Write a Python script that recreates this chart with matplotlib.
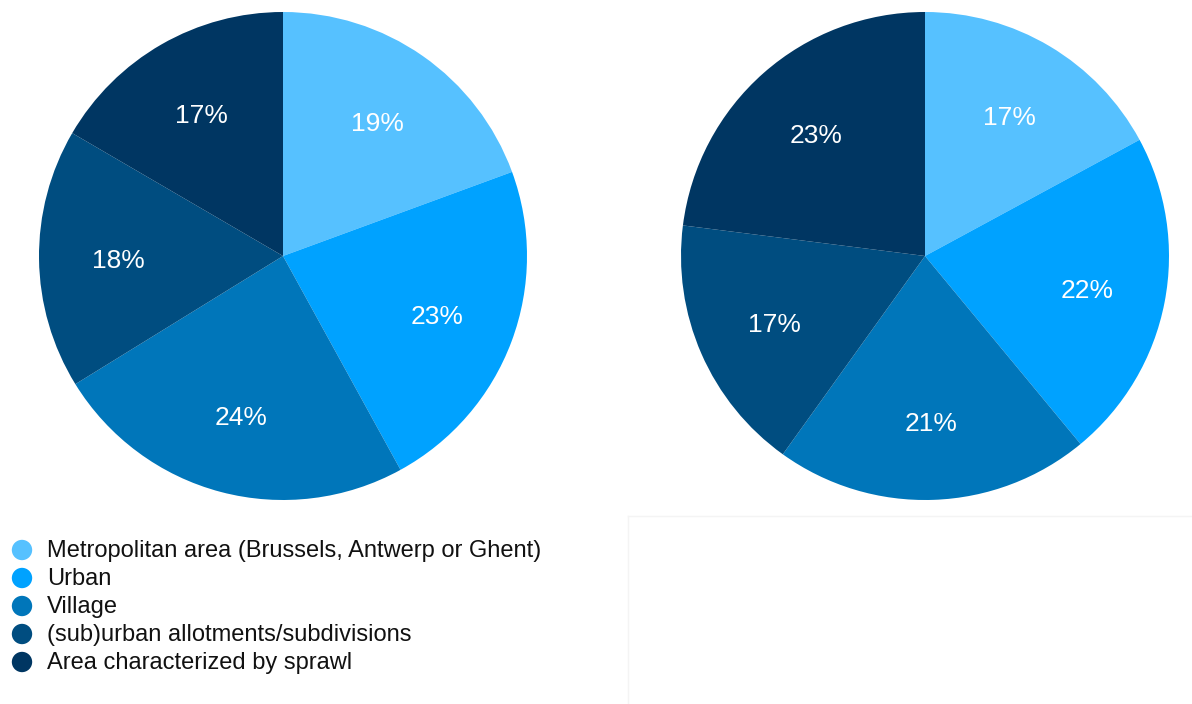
import matplotlib
matplotlib.use("Agg")
import matplotlib.pyplot as plt
from matplotlib.lines import Line2D

categories = ["Metropolitan area (Brussels, Antwerp or Ghent)", "Urban", "Village",
              "(sub)urban allotments/subdivisions", "Area characterized by sprawl"]
left_values = [19.4, 22.6, 24.2, 17.2, 16.6]
left_labels = ["19%", "23%", "24%", "18%", "17%"]
right_values = [17.1, 21.9, 20.9, 17.1, 23.0]
right_labels = ["17%", "22%", "21%", "17%", "23%"]
colors = ["#56C1FF", "#00A2FF", "#0076BA", "#004D80", "#003662"]

plt.rcParams['font.family'] = ['Liberation Sans', 'DejaVu Sans']

W, H = 1192, 704
fig = plt.figure(figsize=(W / 100, H / 100), dpi=100)
fig.patch.set_facecolor("white")

R = 244
def pie_axes(cx, cy):
    return fig.add_axes([(cx - R) / W, (H - cy - R) / H, 2 * R / W, 2 * R / H])

for (cx, cy), vals, labs in [((283, 256), left_values, left_labels),
                             ((925, 256), right_values, right_labels)]:
    ax = pie_axes(cx, cy)
    wedges, texts = ax.pie(vals, colors=colors, startangle=90, counterclock=False,
                           labels=labs, labeldistance=0.675,
                           textprops=dict(color="white", fontsize=19),
                           wedgeprops=dict(linewidth=0))
    for t in texts:
        t.set_horizontalalignment("center")
        t.set_verticalalignment("center")
        x, y = t.get_position()
        t.set_position((x, y - 0.013))
    ax.set_xlim(-1, 1)
    ax.set_ylim(-1, 1)
    ax.set_aspect("equal")
    ax.axis("off")

# faint panel border
fig.add_artist(Line2D([628 / W, 628 / W], [0, (H - 516) / H], color="#f4f4f4", lw=1))
fig.add_artist(Line2D([628 / W, 1], [(H - 516) / H, (H - 516) / H], color="#f4f4f4", lw=1))

# legend
lax = fig.add_axes([0, 0, 1, 1], facecolor="none")
lax.set_xlim(0, W)
lax.set_ylim(H, 0)
lax.axis("off")
ys = [550, 578, 606, 634, 662]
for y, lab, c in zip(ys, categories, colors):
    lax.scatter([22], [y], s=215, color=c, edgecolors="none")
    lax.text(47, y + 1, lab, fontsize=17, color="#111111", va="center", ha="left")

fig.savefig("out.png", dpi=100, facecolor="white")
